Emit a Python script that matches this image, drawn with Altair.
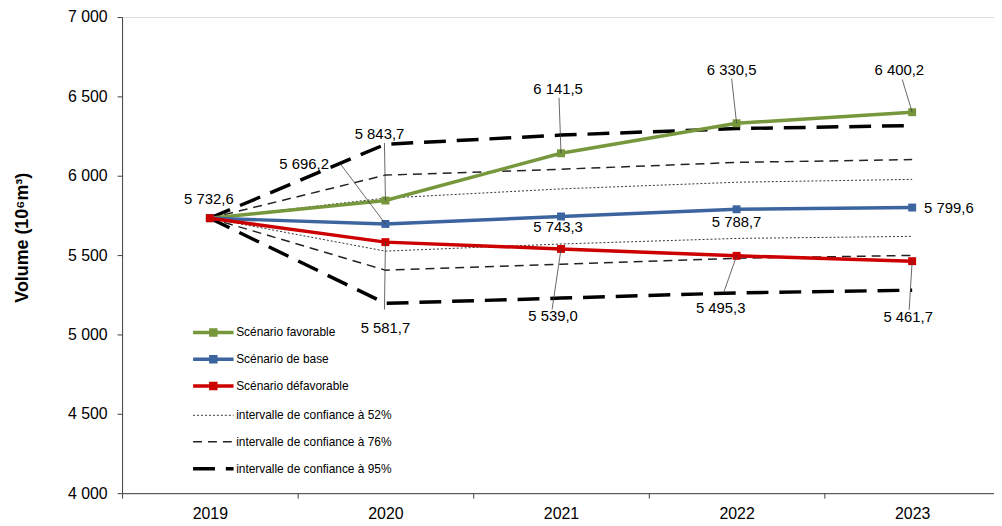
import altair as alt
import pandas as pd

# ---------------- data ----------------
years = [2019, 2020, 2021, 2022, 2023]
favorable = [5732.6, 5843.7, 6141.5, 6330.5, 6400.2]
base = [5732.6, 5696.2, 5743.3, 5788.7, 5799.6]
defavorable = [5732.6, 5581.7, 5539.0, 5495.3, 5461.7]

ci52_sup = [5732.6, 5859, 5917, 5959, 5977]
ci52_inf = [5732.6, 5525, 5570, 5605, 5618]
ci76_sup = [5732.6, 6004, 6041, 6084, 6102]
ci76_inf = [5732.6, 5405, 5443, 5480, 5498]
ci95_sup = [5732.6, 6198, 6256, 6297, 6316]
ci95_inf = [5732.6, 5196, 5229, 5262, 5279]

scenario_names = ["Scénario favorable", "Scénario de base", "Scénario défavorable"]
ci_names = ["intervalle de confiance à 52%", "intervalle de confiance à 76%",
            "intervalle de confiance à 95%"]
y_ticks = [4000, 4500, 5000, 5500, 6000, 6500, 7000]
y_title = "Volume (10⁶m³)"

# ---------------- layout / style ----------------
W, H = 885, 480
X_DOMAIN = [2018.5, 2023.5]
Y_DOMAIN = [4000, 7000]
PX_PER_YEAR = W / (X_DOMAIN[1] - X_DOMAIN[0])
UNITS_PER_PX = (Y_DOMAIN[1] - Y_DOMAIN[0]) / H
FONT = "Liberation Sans"
scenario_colors = ["#77973C", "#3C65A0", "#CC0000"]
ci_dashes = [[2, 2], [9, 6], [22, 11]]
ci_widths = [1.0, 1.5, 3.5]
ci_colors = ["#333333", "#222222", "#000000"]

# annotations: (series, year index, label dx px, label dy px, leader end dx, leader end dy)
series_map = {"fav": favorable, "base": base, "def": defavorable}
annotations = [
    ("base", 0, -1, -19, None, None),
    ("base", 1, -82, -60, -45, -60),
    ("fav", 1, -6, -67, -1, -58),
    ("def", 1, 0, 87, -1, 68),
    ("fav", 2, -3, -65, -2, -56),
    ("base", 2, -3, 11, None, None),
    ("def", 2, -8, 68, -9, 61),
    ("fav", 3, -5, -54, -5, -45),
    ("base", 3, 0, 13, None, None),
    ("def", 3, -16, 53, -13, 37),
    ("fav", 4, -13, -43, -10, -33),
    ("base", 4, 37, 0, None, None),
    ("def", 4, -4, 56, -3, 49),
]


def fr(v):
    return f"{v:,.1f}".replace(",", " ").replace(".", ",")


scen_rows = []
for name, vals in zip(scenario_names, [favorable, base, defavorable]):
    for yr, v in zip(years, vals):
        scen_rows.append({"year": yr, "value": v, "scenario": name})
scen_df = pd.DataFrame(scen_rows)

ci_rows = []
for name, sup, inf in zip(ci_names, [ci52_sup, ci76_sup, ci95_sup], [ci52_inf, ci76_inf, ci95_inf]):
    for yr, v in zip(years, sup):
        ci_rows.append({"year": yr, "value": v, "ci": name, "bound": "sup"})
    for yr, v in zip(years, inf):
        ci_rows.append({"year": yr, "value": v, "ci": name, "bound": "inf"})
ci_df = pd.DataFrame(ci_rows)

lab_rows, lead_rows = [], []
for key, i, dx, dy, ldx, ldy in annotations:
    v = series_map[key][i]
    yr = years[i]
    lab_rows.append({"text": fr(v), "lx": yr + dx / PX_PER_YEAR, "ly": v - dy * UNITS_PER_PX})
    if ldx is not None:
        lead_rows.append({"x": yr, "y": v, "x2": yr + ldx / PX_PER_YEAR, "y2": v - ldy * UNITS_PER_PX})
lab_df = pd.DataFrame(lab_rows)
lead_df = pd.DataFrame(lead_rows)

x_scale = alt.Scale(domain=X_DOMAIN, nice=False, zero=False)
y_scale = alt.Scale(domain=Y_DOMAIN, nice=False, zero=False)

x_axis = alt.Axis(
    values=[X_DOMAIN[0] + k for k in range(6)],
    labelExpr="datum.value < 2023 ? '' + (datum.value + 0.5) : ''",
    labelOffset=PX_PER_YEAR / 2, labelFlush=False, labelOverlap=False,
    tickSize=5, grid=False, title=None, domainColor="#404040", tickColor="#404040",
    labelFont=FONT, labelFontSize=16, labelColor="#000000", labelPadding=8,
)
y_axis = alt.Axis(
    values=y_ticks,
    labelExpr="replace(format(datum.value, ','), ',', ' ')",
    tickSize=5, grid=False, domainColor="#404040", tickColor="#404040",
    labelFont=FONT, labelFontSize=16, labelColor="#000000", labelPadding=10,
    title=y_title, titleFont=FONT, titleFontSize=18, titleFontWeight="bold",
    titleColor="#000000", titleX=-100, titleY=222, titleAlign="center",
    titleBaseline="middle", titleAngle=270,
)

scen_symbol = ("M-1.7,0L1.7,0M-0.21,-0.21L0.21,-0.21L0.21,0.21L-0.21,0.21Z"
               "M-0.08,-0.08L0.08,-0.08L0.08,0.08L-0.08,0.08Z")
line_symbol = "M-1.7,0L1.7,0"

scen_legend = alt.Legend(
    orient="none", legendX=78, legendY=304, title=None, padding=0,
    symbolType=scen_symbol, symbolSize=576, symbolStrokeWidth=3.5,
    labelFont=FONT, labelFontSize=12, labelColor="#000000", labelOffset=9,
    rowPadding=3,
)
ci_legend = alt.Legend(
    orient="none", legendX=78, legendY=389, title=None, padding=0,
    symbolType=line_symbol, symbolSize=576,
    labelFont=FONT, labelFontSize=12, labelColor="#000000", labelOffset=9,
    rowPadding=7.2,
)

ci_layer = alt.Chart(ci_df).mark_line().encode(
    x=alt.X("year:Q", scale=x_scale, axis=x_axis),
    y=alt.Y("value:Q", scale=y_scale, axis=y_axis),
    stroke=alt.Stroke("ci:N", scale=alt.Scale(type="ordinal", domain=ci_names, range=ci_colors),
                      legend=ci_legend),
    strokeDash=alt.StrokeDash("ci:N", scale=alt.Scale(type="ordinal", domain=ci_names, range=ci_dashes),
                              legend=ci_legend),
    strokeWidth=alt.StrokeWidth("ci:N", scale=alt.Scale(type="ordinal", domain=ci_names, range=ci_widths),
                                legend=ci_legend),
    detail="bound:N",
)

scen_layer = alt.Chart(scen_df).mark_line(
    strokeWidth=3.5,
    point=alt.OverlayMarkDef(shape="square", filled=True, size=64, opacity=1),
).encode(
    x=alt.X("year:Q", scale=x_scale, axis=x_axis),
    y=alt.Y("value:Q", scale=y_scale, axis=y_axis),
    color=alt.Color("scenario:N", scale=alt.Scale(domain=scenario_names, range=scenario_colors),
                    legend=scen_legend),
)

lead_layer = alt.Chart(lead_df).mark_rule(color="#404040", strokeWidth=0.8).encode(
    x=alt.X("x:Q", scale=x_scale, axis=x_axis),
    y=alt.Y("y:Q", scale=y_scale, axis=y_axis),
    x2="x2:Q",
    y2="y2:Q",
)

text_layer = alt.Chart(lab_df).mark_text(
    font=FONT, fontSize=15, color="#000000", align="center", baseline="middle"
).encode(
    x=alt.X("lx:Q", scale=x_scale, axis=x_axis),
    y=alt.Y("ly:Q", scale=y_scale, axis=y_axis),
    text="text:N",
)

chart = alt.layer(ci_layer, scen_layer, lead_layer, text_layer).properties(
    width=W, height=H,
    autosize=alt.AutoSizeParams(type="none"),
    padding={"left": 115, "top": 7, "right": -6, "bottom": 30},
).configure_view(strokeWidth=0).configure(font=FONT)

chart.save("out.html", embed_options={"renderer": "svg", "actions": False})
